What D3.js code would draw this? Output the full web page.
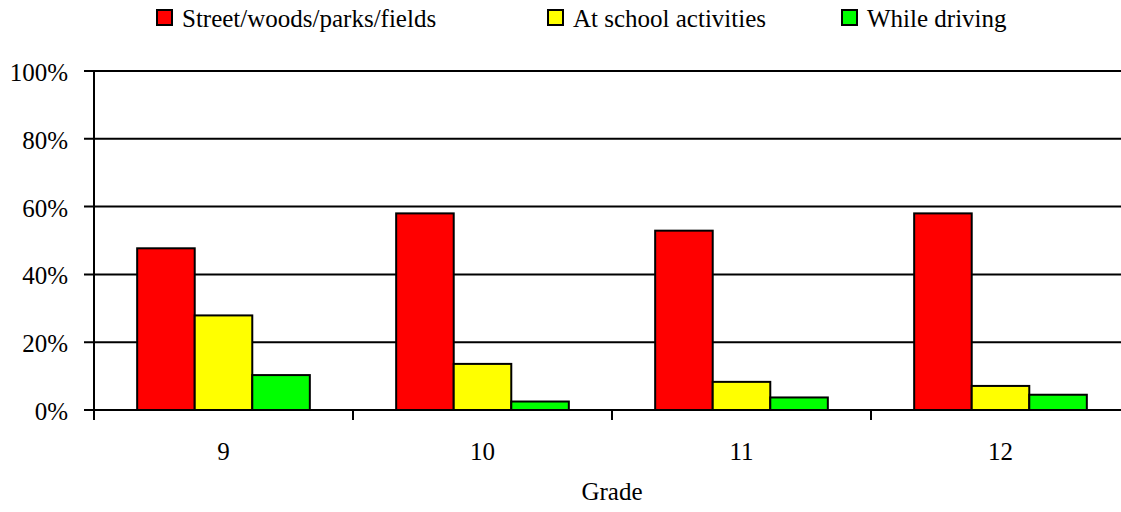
<!DOCTYPE html>
<html>
<head>
<meta charset="utf-8">
<script src="https://cdn.jsdelivr.net/npm/d3@7"></script>
<style>
  html, body { margin: 0; padding: 0; background: #fff; }
  svg { display: block; }
</style>
</head>
<body>
<svg id="chart" width="1121" height="512"></svg>
<script>
const grades = ["9", "10", "11", "12"];
const seriesNames = ["Street/woods/parks/fields", "At school activities", "While driving"];
const street = [47.7, 58.0, 52.9, 58.0];
const school = [27.9, 13.6, 8.3, 7.1];
const driving = [10.3, 2.5, 3.7, 4.5];
const seriesColors = ["#ff0000", "#ffff00", "#00ff00"];
const yTicks = [0, 20, 40, 60, 80, 100];
const xTitle = "Grade";

(function () {
const values = [street, school, driving];
const FONT = "'Liberation Serif', 'Times New Roman', Tinos, 'DejaVu Serif', serif";
const svg = d3.select("#chart").attr("font-family", FONT);
const plotLeft = 94, plotRight = 1130, plotTop = 71, plotBottom = 410;
const fs = 25;

const x0 = d3.scaleBand().domain(grades).range([plotLeft, plotRight]).padding(0);
const x1 = d3.scaleBand().domain(seriesNames).range([0, x0.bandwidth()])
  .paddingInner(0).paddingOuter(0.75);
const y = d3.scaleLinear().domain([0, 100]).range([plotBottom, plotTop]);

// gridlines
svg.append("g").selectAll("line").data(yTicks).join("line")
  .attr("x1", plotLeft - 10).attr("x2", plotRight)
  .attr("y1", d => y(d)).attr("y2", d => y(d))
  .attr("stroke", "#000").attr("stroke-width", 2);

// y labels
svg.append("g").selectAll("text").data(yTicks).join("text")
  .attr("x", 68).attr("y", d => y(d) + 10)
  .attr("text-anchor", "end").attr("font-size", fs).attr("font-family", FONT)
  .text(d => d + "%");

// bars
const groups = svg.append("g").selectAll("g").data(grades).join("g")
  .attr("transform", d => `translate(${x0(d)},0)`);
groups.selectAll("rect")
  .data((g, gi) => seriesNames.map((s, si) => ({ s, si, v: values[si][gi] })))
  .join("rect")
  .attr("x", d => x1(d.s))
  .attr("width", x1.bandwidth())
  .attr("y", d => y(d.v))
  .attr("height", d => y(0) - y(d.v))
  .attr("fill", d => seriesColors[d.si])
  .attr("stroke", "#000").attr("stroke-width", 2);

// y axis line
svg.append("line").attr("x1", plotLeft).attr("x2", plotLeft)
  .attr("y1", plotTop).attr("y2", plotBottom + 10)
  .attr("stroke", "#000").attr("stroke-width", 2);

// x axis ticks at group boundaries
const bounds = grades.map(g => x0(g)).concat([plotRight]);
svg.append("g").selectAll("line").data(bounds).join("line")
  .attr("x1", d => d).attr("x2", d => d)
  .attr("y1", plotBottom).attr("y2", plotBottom + 10)
  .attr("stroke", "#000").attr("stroke-width", 2);

// x labels
svg.append("g").selectAll("text").data(grades).join("text")
  .attr("x", d => x0(d) + x0.bandwidth() / 2)
  .attr("y", 460)
  .attr("text-anchor", "middle").attr("font-size", fs).attr("font-family", FONT)
  .text(d => d);

svg.append("text")
  .attr("x", (plotLeft + plotRight) / 2).attr("y", 500)
  .attr("text-anchor", "middle").attr("font-size", fs).attr("font-family", FONT)
  .text(xTitle);

// legend
const legendX = [157, 548, 842];
const lg = svg.append("g").selectAll("g").data(seriesNames).join("g")
  .attr("transform", (d, i) => `translate(${legendX[i]},0)`);
lg.append("rect").attr("x", 0).attr("y", 10).attr("width", 15).attr("height", 15)
  .attr("fill", (d, i) => seriesColors[i]).attr("stroke", "#000").attr("stroke-width", 2);
lg.append("text").attr("x", 25).attr("y", 27).attr("font-size", fs).attr("font-family", FONT)
  .text(d => d);
})();
</script>
</body>
</html>
